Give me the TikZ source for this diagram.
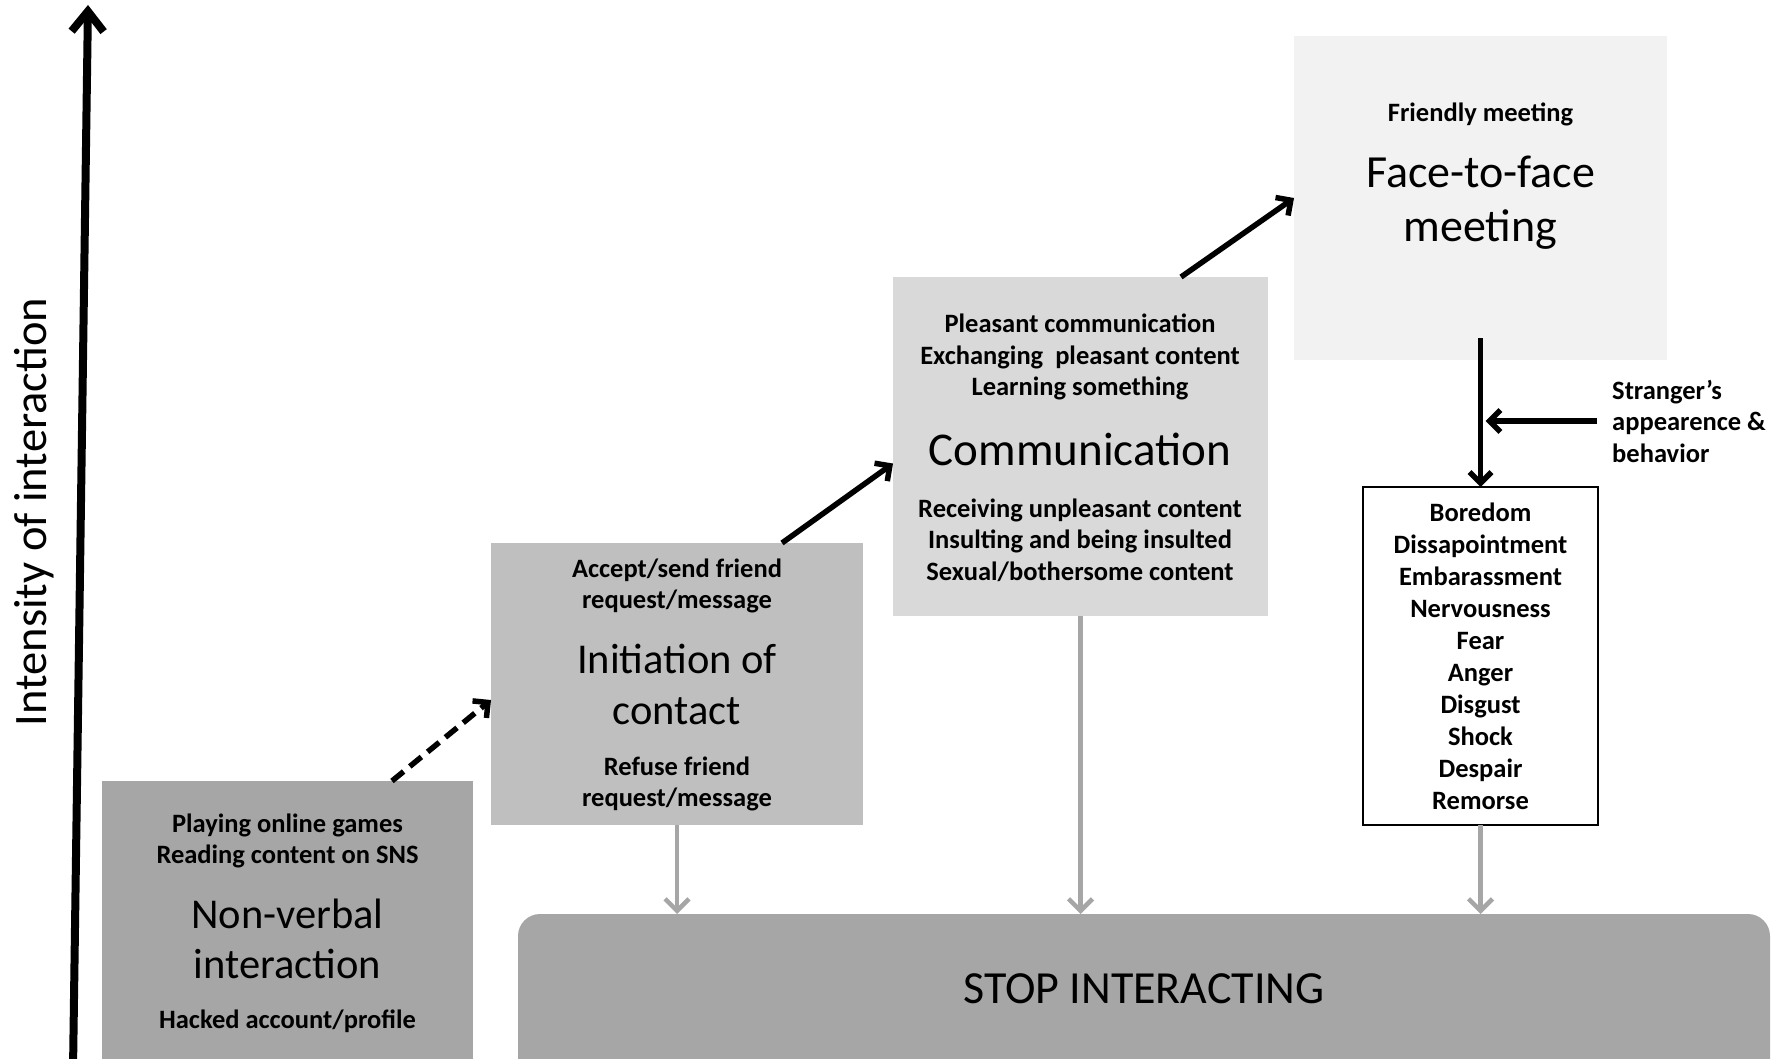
\documentclass[tikz,border=0pt]{standalone}
\usepackage{fontspec}
\setmainfont{Carlito}
\usetikzlibrary{arrows.meta}
\definecolor{gA}{HTML}{A6A6A6}
\definecolor{gB}{HTML}{BFBFBF}
\definecolor{gC}{HTML}{D9D9D9}
\definecolor{gD}{HTML}{F2F2F2}
\begin{document}
\begin{tikzpicture}[x=1pt,y=-1pt,
  stage/.style={rectangle, inner sep=0pt, outer sep=0pt, anchor=north west},
  small/.style={font=\fontsize{26.5}{31.5}\selectfont\bfseries, align=center, inner sep=0pt},
  ttl/.style={align=center, inner sep=0pt},
  blk/.style={line width=5.5pt, -{Straight Barb[length=11pt,width=22pt]}},
  gry/.style={draw=gA, line width=4.5pt, -{Straight Barb[length=12pt,width=24pt]}},
]
\clip (0,0) rectangle (1782,1059);
\useasboundingbox (0,0) rectangle (1782,1059);

% axis
\coordinate (axb) at (73,1070);
\coordinate (axt) at (88,5);
\draw[line width=8pt, -{Straight Barb[length=20pt,width=32pt]}] (axb) -- (axt);
\node[rotate=90, inner sep=0pt, font=\fontsize{46.5}{46.5}\selectfont] (lab) at (34,512) {Intensity of interaction};

% stage boxes
\node[stage, fill=gA, minimum width=371pt, minimum height=320pt] (b1) at (102,781) {};
\node[stage, fill=gB, minimum width=372pt, minimum height=282pt] (b2) at (491,543) {};
\node[stage, fill=gC, minimum width=375pt, minimum height=339pt] (b3) at (893,277) {};
\node[stage, fill=gD, minimum width=373pt, minimum height=324pt] (b4) at (1294,36) {};
\node[stage, fill=white, draw=black, line width=2.5pt, minimum width=235pt, minimum height=338pt] (b5) at (1363,487) {};
\node[stage, fill=gA, rounded corners=22pt, minimum width=1252pt, minimum height=200pt] (stop) at (518,914) {};

% box 1 texts
\node[small] (t1a) at (287.5,841) {Playing online games\\Reading content on SNS};
\node[ttl, font=\fontsize{42.5}{50}\selectfont] (t1b) at (287.5,939) {Non-verbal\\interaction};
\node[small] (t1c) at (287.5,1021) {Hacked account/profile};

% box 2 texts
\node[small] (t2a) at (677,586) {Accept/send friend\\request/message};
\node[ttl, font=\fontsize{42.5}{51}\selectfont] (t2b) at (677,684.5) {Initiation of\\contact};
\node[small] (t2c) at (677,784) {Refuse friend\\request/message};

% box 3 texts
\node[small] (t3a) at (1080,357) {Pleasant communication\\Exchanging\ \ pleasant content\\Learning something};
\node[ttl, font=\fontsize{47}{50}\selectfont] (t3b) at (1080,449) {Communication};
\node[small] (t3c) at (1080,540) {Receiving unpleasant content\\Insulting and being insulted\\Sexual/bothersome content};

% box 4 texts
\node[small] (t4a) at (1480.5,114) {Friendly meeting};
\node[ttl, font=\fontsize{46}{54}\selectfont] (t4b) at (1480.5,203) {Face-to-face\\meeting};

% emotions
\node[small, font=\fontsize{26.5}{32}\selectfont\bfseries] (t5) at (1480.5,656) {Boredom\\Dissapointment\\Embarassment\\Nervousness\\Fear\\Anger\\Disgust\\Shock\\Despair\\Remorse};

% stranger
\node[small, align=left, anchor=west] (str) at (1612,421) {Stranger’s\\appearence \&\\behavior};

% stop text
\node[ttl, font=\fontsize{46}{46}\selectfont] (st) at (1144,989) {STOP INTERACTING};

% connectors
\draw[blk, dash pattern=on 15pt off 8pt] ([xshift=290pt]b1.north west) -- ([yshift=-16pt]b2.west);
\draw[blk] ([xshift=291pt]b2.north west) -- ([yshift=-17pt]b3.west);
\draw[blk] ([xshift=288pt]b3.north west) -- (b4.west);
\draw[blk] ([yshift=22pt]b4.south) -- (b5.north);
\draw[blk, shorten <=15pt, shorten >=5pt] (str.west) -- (str.west -| b5.north);

\draw[gry] (b2.south) -- (b2.south |- stop.north);
\draw[gry] (b3.south) -- (b3.south |- stop.north);
\draw[gry] (b5.south) -- (b5.south |- stop.north);
\end{tikzpicture}
\end{document}
